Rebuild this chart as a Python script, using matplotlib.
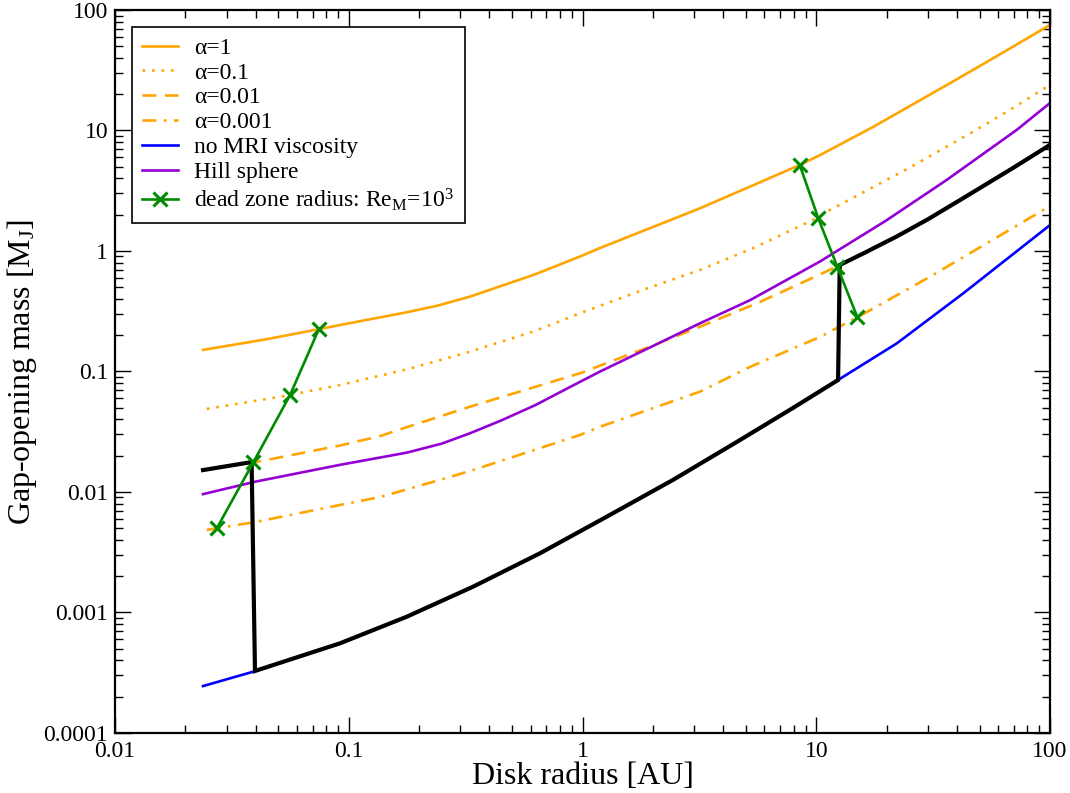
import matplotlib
matplotlib.use("Agg")
import matplotlib.pyplot as plt
from matplotlib.ticker import FixedLocator, FixedFormatter, LogLocator, NullFormatter

plt.rcParams['font.family'] = ['Liberation Serif', 'DejaVu Serif']
plt.rcParams['mathtext.fontset'] = 'custom'
plt.rcParams['mathtext.rm'] = 'Liberation Serif'
plt.rcParams['mathtext.it'] = 'Liberation Serif:italic'

# ---- data (disk radius in AU, gap-opening mass in Jupiter masses) ----
alpha1_r = [0.0238, 0.045, 0.075, 0.0918, 0.177, 0.24, 0.33, 0.627, 0.975, 1.19, 3.18, 8.5, 10.4, 17.5, 37.5, 60, 100]
alpha1_m = [0.151, 0.186, 0.225, 0.243, 0.31, 0.352, 0.418, 0.64, 0.90, 1.06, 2.26, 5.17, 6.26, 10.7, 24.8, 42, 75.2]

alpha01_r = [0.0247, 0.0561, 0.0918, 0.177, 0.33, 0.627, 0.975, 1.8, 3.18, 5.5, 9.68, 11.46, 25, 47, 70, 100]
alpha01_m = [0.0489, 0.0638, 0.0773, 0.104, 0.146, 0.217, 0.304, 0.473, 0.695, 1.077, 1.81, 2.19, 4.9, 9.8, 15.5, 23.9]

alpha001_r = [0.0238, 0.04, 0.0918, 0.137, 0.177, 0.33, 0.975, 1.8, 3.18, 5.7, 10.4, 12.6, 16, 22.1, 30, 42.6, 70, 100]
alpha001_m = [0.0152, 0.0177, 0.0243, 0.0292, 0.0345, 0.051, 0.0966, 0.152, 0.235, 0.375, 0.64, 0.765, 0.96, 1.32, 1.83, 2.75, 4.93, 7.6]

alpha0001_r = [0.0247, 0.04, 0.0918, 0.137, 0.263, 0.34, 0.975, 1.19, 3.18, 5.2, 10.4, 15.0, 30.7, 100]
alpha0001_m = [0.00484, 0.00564, 0.0078, 0.0091, 0.0131, 0.0152, 0.0297, 0.0348, 0.068, 0.109, 0.194, 0.282, 0.612, 2.36]

nomri_r = [0.0238, 0.04, 0.0918, 0.177, 0.341, 0.658, 1.27, 2.44, 4.72, 7.95, 12.4, 22.1, 42.6, 100]
nomri_m = [0.000245, 0.000327, 0.000555, 0.000922, 0.00164, 0.0031, 0.00624, 0.0126, 0.027, 0.0498, 0.085, 0.171, 0.446, 1.64]

hill_r = [0.0238, 0.04, 0.0918, 0.177, 0.25, 0.33, 0.45, 0.627, 0.975, 1.19, 3.18, 5.2, 10.4, 20, 36.1, 72, 100]
hill_m = [0.0096, 0.0122, 0.0168, 0.0212, 0.0252, 0.0307, 0.0393, 0.0525, 0.082, 0.100, 0.251, 0.39, 0.82, 1.8, 3.88, 10.1, 16.9]

deadzone_r = [0.0238, 0.0384, 0.0397, 0.0918, 0.177, 0.341, 0.658, 1.27, 2.44, 4.72, 7.95, 12.4,
              12.6, 16, 22.1, 30, 42.6, 70, 100]
deadzone_m = [0.0152, 0.0177, 0.000327, 0.000555, 0.000922, 0.00164, 0.0031, 0.00624, 0.0126, 0.027, 0.0498, 0.085,
              0.765, 0.96, 1.32, 1.83, 2.75, 4.93, 7.6]

dz_inner_r = [0.0273, 0.0391, 0.0561, 0.0745]
dz_inner_m = [0.00503, 0.0177, 0.0638, 0.225]
dz_outer_r = [8.5, 10.2, 12.3, 15.0]
dz_outer_m = [5.17, 1.87, 0.741, 0.282]

xticks = [0.01, 0.1, 1, 10, 100]
xtick_labels = ['0.01', '0.1', '1', '10', '100']
yticks = [0.0001, 0.001, 0.01, 0.1, 1, 10, 100]
ytick_labels = ['0.0001', '0.001', '0.01', '0.1', '1', '10', '100']

ORANGE = '#FFA500'
BLUE = '#0000FF'
VIOLET = '#9400D3'
GREEN = '#008B00'

fig = plt.figure(figsize=(10.7, 7.93), dpi=100)
ax = fig.add_axes([0.1075, 0.0757, 0.8738, 0.9117])

lw = 1.9
ax.plot(alpha1_r, alpha1_m, color=ORANGE, lw=lw, label='α=1')
ax.plot(alpha01_r, alpha01_m, color=ORANGE, lw=lw, linestyle=(0, (1, 2.6)), label='α=0.1')
ax.plot(alpha001_r, alpha001_m, color=ORANGE, lw=lw, linestyle=(0, (5.3, 3.2)), label='α=0.01')
ax.plot(alpha0001_r, alpha0001_m, color=ORANGE, lw=lw, linestyle=(0, (5.3, 2.8, 1, 2.8)), label='α=0.001')
ax.plot(nomri_r, nomri_m, color=BLUE, lw=lw, label='no MRI viscosity')
ax.plot(hill_r, hill_m, color=VIOLET, lw=lw, label='Hill sphere')
ax.plot(deadzone_r, deadzone_m, color='black', lw=3.0, solid_joinstyle='miter', zorder=4)
ax.plot(dz_inner_r, dz_inner_m, color=GREEN, lw=1.9, marker='x', markersize=10, mew=2.2,
        label=r'dead zone radius: Re$_{\mathrm{M}}$=10$^{3}$', zorder=5)
ax.plot(dz_outer_r, dz_outer_m, color=GREEN, lw=1.9, marker='x', markersize=10, mew=2.2, zorder=5)

ax.set_xscale('log')
ax.set_yscale('log')
ax.set_xlim(0.01, 100)
ax.set_ylim(0.0001, 100)

ax.xaxis.set_major_locator(FixedLocator(xticks))
ax.xaxis.set_major_formatter(FixedFormatter(xtick_labels))
ax.yaxis.set_major_locator(FixedLocator(yticks))
ax.yaxis.set_major_formatter(FixedFormatter(ytick_labels))
ax.xaxis.set_minor_locator(LogLocator(base=10, subs=range(2, 10), numticks=20))
ax.yaxis.set_minor_locator(LogLocator(base=10, subs=range(2, 10), numticks=20))
ax.xaxis.set_minor_formatter(NullFormatter())
ax.yaxis.set_minor_formatter(NullFormatter())

ax.tick_params(which='both', direction='in', top=True, right=True, labelsize=17, width=1.0)
ax.tick_params(which='major', length=11.5)
ax.tick_params(which='minor', length=5.8)
ax.tick_params(axis='x', which='major', pad=6)
ax.tick_params(axis='y', which='major', pad=5)
for s in ax.spines.values():
    s.set_linewidth(1.6)

ax.set_xlabel('Disk radius [AU]', fontsize=23, labelpad=0)
ax.set_ylabel(r'Gap-opening mass [M$_{\mathrm{J}}$]', fontsize=23, labelpad=3)

leg = ax.legend(loc='upper left', bbox_to_anchor=(0.018, 0.977), fontsize=17,
                frameon=True, fancybox=False, framealpha=1, edgecolor='black',
                handlelength=1.5, handletextpad=0.7, borderpad=0.45, labelspacing=0.14,
                borderaxespad=0.0)
leg.get_frame().set_linewidth(1.2)

fig.savefig('out.png', dpi=100)
